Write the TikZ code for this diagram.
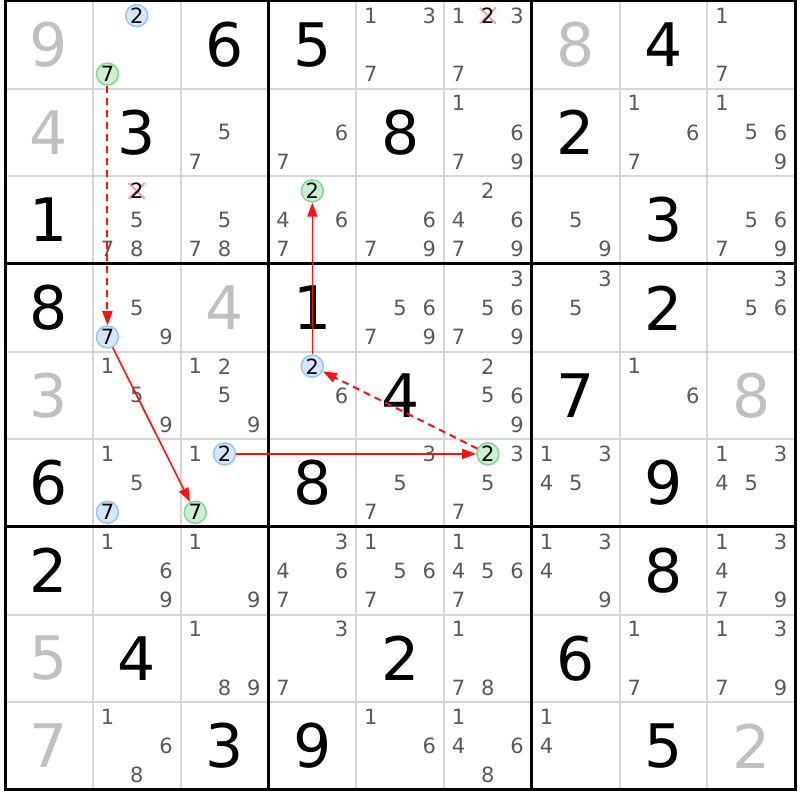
\documentclass[tikz,border=0pt]{standalone}
\usepackage{fontspec}
\setmainfont{DejaVu Sans}
\usetikzlibrary{arrows.meta}
\definecolor{candgray}{HTML}{5A5A5A}
\definecolor{givengray}{HTML}{C0C0C0}
\definecolor{gridgray}{HTML}{D6D6D6}
\definecolor{bluefill}{HTML}{D5E8FB}
\definecolor{blueline}{HTML}{94C6F2}
\definecolor{greenfill}{HTML}{CCEFD2}
\definecolor{greenline}{HTML}{80D890}
\definecolor{xpink}{HTML}{FF9AA8}
\definecolor{arrred}{HTML}{FF1010}
\tikzset{
  bigdigit/.style={font=\fontsize{60}{60}\selectfont, inner sep=0pt},
  bigblack/.style={bigdigit, text=black},
  biggray/.style={bigdigit, text=givengray},
  candtxt/.style={font=\fontsize{21}{21}\selectfont, text=candgray, inner sep=0pt},
  hlbase/.style={circle, minimum size=22pt, inner sep=0pt, line width=1.5pt,
    font=\fontsize{21}{21}\selectfont, text=black},
  hlblue/.style={hlbase, fill=bluefill, draw=blueline},
  hlgreen/.style={hlbase, fill=greenfill, draw=greenline},
  linkarr/.style={color=arrred, line width=1.6pt, -{Triangle[length=14pt,width=10pt]}},
  weakarr/.style={linkarr, line width=2pt, dash pattern=on 7pt off 5pt},
  xmark/.style={draw=xpink, line width=2pt},
  thinline/.style={draw=gridgray, line width=2pt},
  thickline/.style={draw=black, line width=3pt},
}
\newcommand\setcandpos[3]{%
  \pgfmathsetmacro\cpx{5+#2*87.8+(mod(#3-1,3)+0.5)*29.267}%
  \pgfmathsetmacro\cpy{1+#1*87.65+(floor((#3-1)/3)+0.5)*29.217}}
\newcommand\bigd[4]{\node[#4] (g#1#2) at ({5+(#2+0.5)*87.8},{1+(#1+0.5)*87.65}) {#3};}
\newcommand\cands[3]{\foreach \dd in {#3}{\setcandpos{#1}{#2}{\dd}\node[candtxt] (k#1#2\dd) at (\cpx,\cpy) {\dd};}}
\newcommand\hcand[4]{\setcandpos{#1}{#2}{#3}\node[#4] (k#1#2#3) at (\cpx,\cpy) {#3};}
\newcommand\xcand[3]{\setcandpos{#1}{#2}{#3}%
  \draw[xmark] ({\cpx-8},{\cpy-8}) -- ({\cpx+8},{\cpy+8}) ({\cpx-8},{\cpy+8}) -- ({\cpx+8},{\cpy-8});%
  \node[candtxt,text=black] (k#1#2#3) at (\cpx,\cpy) {#3};}
\begin{document}
\begin{tikzpicture}[x=1pt,y=-1pt]
\useasboundingbox (0,0) rectangle (800,800);
\fill[white] (0,0) rectangle (800,800);
% grid
\foreach \i in {1,2,4,5,7,8}{
  \draw[thinline] ({5+\i*87.8},1) -- ({5+\i*87.8},789.85);
  \draw[thinline] (5,{1+\i*87.65}) -- (795.2,{1+\i*87.65});
}
\foreach \i in {3,6}{
  \draw[thickline] ({5+\i*87.8},1) -- ({5+\i*87.8},789.85);
  \draw[thickline] (5,{1+\i*87.65}) -- (795.2,{1+\i*87.65});
}
\draw[thickline] (5,1) rectangle (795.2,789.85);
% big digits
\bigd{0}{0}{9}{biggray}\bigd{0}{2}{6}{bigblack}\bigd{0}{3}{5}{bigblack}\bigd{0}{6}{8}{biggray}\bigd{0}{7}{4}{bigblack}
\bigd{1}{0}{4}{biggray}\bigd{1}{1}{3}{bigblack}\bigd{1}{4}{8}{bigblack}\bigd{1}{6}{2}{bigblack}
\bigd{2}{0}{1}{bigblack}\bigd{2}{7}{3}{bigblack}
\bigd{3}{0}{8}{bigblack}\bigd{3}{2}{4}{biggray}\bigd{3}{3}{1}{bigblack}\bigd{3}{7}{2}{bigblack}
\bigd{4}{0}{3}{biggray}\bigd{4}{4}{4}{bigblack}\bigd{4}{6}{7}{bigblack}\bigd{4}{8}{8}{biggray}
\bigd{5}{0}{6}{bigblack}\bigd{5}{3}{8}{bigblack}\bigd{5}{7}{9}{bigblack}
\bigd{6}{0}{2}{bigblack}\bigd{6}{7}{8}{bigblack}
\bigd{7}{0}{5}{biggray}\bigd{7}{1}{4}{bigblack}\bigd{7}{4}{2}{bigblack}\bigd{7}{6}{6}{bigblack}
\bigd{8}{0}{7}{biggray}\bigd{8}{2}{3}{bigblack}\bigd{8}{3}{9}{bigblack}\bigd{8}{7}{5}{bigblack}\bigd{8}{8}{2}{biggray}
% candidates
\cands{0}{4}{1,3,7}\cands{0}{5}{1,3,7}\xcand{0}{5}{2}\cands{0}{8}{1,7}
\cands{1}{2}{5,7}\cands{1}{3}{6,7}\cands{1}{5}{1,6,7,9}\cands{1}{7}{1,6,7}\cands{1}{8}{1,5,6,9}
\cands{2}{1}{5,7,8}\xcand{2}{1}{2}\cands{2}{2}{5,7,8}\cands{2}{3}{4,6,7}\cands{2}{4}{6,7,9}
\cands{2}{5}{2,4,6,7,9}\cands{2}{6}{5,9}\cands{2}{8}{5,6,7,9}
\cands{3}{1}{5,9}\cands{3}{4}{5,6,7,9}\cands{3}{5}{3,5,6,7,9}\cands{3}{6}{3,5}\cands{3}{8}{3,5,6}
\cands{4}{1}{1,5,9}\cands{4}{2}{1,2,5,9}\cands{4}{3}{6}\cands{4}{5}{2,5,6,9}\cands{4}{7}{1,6}
\cands{5}{1}{1,5}\cands{5}{2}{1}\cands{5}{4}{3,5,7}\cands{5}{5}{3,5,7}\cands{5}{6}{1,3,4,5}\cands{5}{8}{1,3,4,5}
\cands{6}{1}{1,6,9}\cands{6}{2}{1,9}\cands{6}{3}{3,4,6,7}\cands{6}{4}{1,5,6,7}\cands{6}{5}{1,4,5,6,7}
\cands{6}{6}{1,3,4,9}\cands{6}{8}{1,3,4,7,9}
\cands{7}{2}{1,8,9}\cands{7}{3}{3,7}\cands{7}{5}{1,7,8}\cands{7}{7}{1,7}\cands{7}{8}{1,3,7,9}
\cands{8}{1}{1,6,8}\cands{8}{4}{1,6}\cands{8}{5}{1,4,6,8}\cands{8}{6}{1,4}
% highlighted candidates
\hcand{0}{1}{2}{hlblue}\hcand{0}{1}{7}{hlgreen}
\hcand{2}{3}{2}{hlgreen}
\hcand{3}{1}{7}{hlblue}
\hcand{4}{3}{2}{hlblue}
\hcand{5}{1}{7}{hlblue}
\hcand{5}{2}{2}{hlblue}\hcand{5}{2}{7}{hlgreen}
\hcand{5}{5}{2}{hlgreen}
% chain
\draw[weakarr] (k017) -- (k317);
\draw[linkarr] (k317) -- (k527);
\draw[linkarr] (k522) -- (k552);
\draw[weakarr] (k552) -- (k432);
\draw[linkarr] (k432) -- (k232);
\end{tikzpicture}
\end{document}
